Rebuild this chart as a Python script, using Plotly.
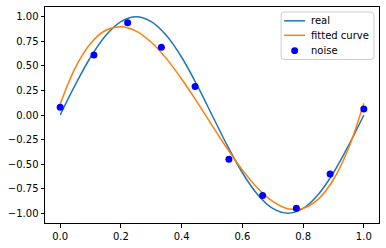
import plotly.graph_objects as go

# Real curve (x step 0.05)
real_x = [0.0, 0.05, 0.1, 0.15, 0.2, 0.25, 0.3, 0.35, 0.4, 0.45, 0.5,
          0.55, 0.6, 0.65, 0.7, 0.75, 0.8, 0.85, 0.9, 0.95, 1.0]
real_y = [0.0, 0.309, 0.588, 0.809, 0.951, 1.0, 0.951, 0.809, 0.588, 0.309, 0.0,
          -0.309, -0.588, -0.809, -0.951, -1.0, -0.951, -0.809, -0.588, -0.309, 0.0]

# Fitted curve
fit_x = real_x
fit_y = [0.11, 0.482, 0.728, 0.863, 0.900, 0.855, 0.741, 0.574, 0.367, 0.136, -0.105,
         -0.341, -0.559, -0.744, -0.880, -0.954, -0.951, -0.857, -0.657, -0.336, 0.12]

# Noise points
noise_x = [0.0, 0.1111, 0.2222, 0.3333, 0.4444, 0.5556, 0.6667, 0.7778, 0.8889, 1.0]
noise_y = [0.08, 0.61, 0.94, 0.69, 0.29, -0.45, -0.82, -0.95, -0.60, 0.06]

y_ticks = [-1.0, -0.75, -0.5, -0.25, 0.0, 0.25, 0.5, 0.75, 1.0]
x_ticks = [0.0, 0.2, 0.4, 0.6, 0.8, 1.0]

legend_names = ["real", "fitted curve", "noise"]
BLUE, ORANGE, DOT = "#1f77b4", "#ff7f0e", "blue"

fig = go.Figure()
fig.add_trace(go.Scatter(x=real_x, y=real_y, mode="lines", name=legend_names[0],
                         line=dict(color=BLUE, width=1.5, shape="spline")))
fig.add_trace(go.Scatter(x=fit_x, y=fit_y, mode="lines", name=legend_names[1],
                         line=dict(color=ORANGE, width=1.5, shape="spline")))
fig.add_trace(go.Scatter(x=noise_x, y=noise_y, mode="markers", name=legend_names[2],
                         marker=dict(color=DOT, size=7)))

# Matplotlib-style legend box drawn in paper coordinates
bx0, bx1, by0, by1 = 0.707, 0.985, 0.757, 0.977
rows = [0.936, 0.869, 0.798]
lx0, lx1, tx = 0.716, 0.779, 0.790
W, H = 335.0, 218.0
r = 3.0
rx, ry = r / W, r / H
path = (f"M {bx0+rx},{by0} L {bx1-rx},{by0} Q {bx1},{by0} {bx1},{by0+ry} "
        f"L {bx1},{by1-ry} Q {bx1},{by1} {bx1-rx},{by1} L {bx0+rx},{by1} "
        f"Q {bx0},{by1} {bx0},{by1-ry} L {bx0},{by0+ry} Q {bx0},{by0} {bx0+rx},{by0} Z")
shapes = [dict(type="path", xref="paper", yref="paper", path=path,
               fillcolor="rgba(255,255,255,0.8)", line=dict(color="#cccccc", width=1),
               layer="above"),
          dict(type="line", xref="paper", yref="paper", x0=lx0, x1=lx1, y0=rows[0], y1=rows[0],
               line=dict(color=BLUE, width=1.5), layer="above"),
          dict(type="line", xref="paper", yref="paper", x0=lx0, x1=lx1, y0=rows[1], y1=rows[1],
               line=dict(color=ORANGE, width=1.5), layer="above")]
cx = (lx0 + lx1) / 2
mr = 3.5
shapes.append(dict(type="circle", xref="paper", yref="paper",
                   x0=cx - mr / W, x1=cx + mr / W, y0=rows[2] - mr / H, y1=rows[2] + mr / H,
                   fillcolor=DOT, line=dict(color=DOT, width=0), layer="above"))
annotations = [dict(xref="paper", yref="paper", x=tx, y=yy, text=name, showarrow=False,
                    xanchor="left", yanchor="middle", font=dict(size=10, color="#000000"))
               for name, yy in zip(legend_names, rows)]

fig.update_layout(
    width=386, height=248,
    margin=dict(l=45, r=6, t=6, b=24),
    paper_bgcolor="white", plot_bgcolor="white",
    font=dict(family="DejaVu Sans", size=10, color="#000000"),
    showlegend=False,
    shapes=shapes, annotations=annotations,
)
fig.update_xaxes(range=[-0.05, 1.05], tickvals=x_ticks, tickformat=".1f",
                 showgrid=False, zeroline=False, showline=True, mirror=True,
                 linecolor="black", linewidth=1, ticks="outside", ticklen=3.5,
                 tickcolor="black")
fig.update_yaxes(range=[-1.1, 1.1], tickvals=y_ticks, tickformat=".2f",
                 showgrid=False, zeroline=False, showline=True, mirror=True,
                 linecolor="black", linewidth=1, ticks="outside", ticklen=3.5,
                 tickcolor="black")

fig.write_html("out.html")
